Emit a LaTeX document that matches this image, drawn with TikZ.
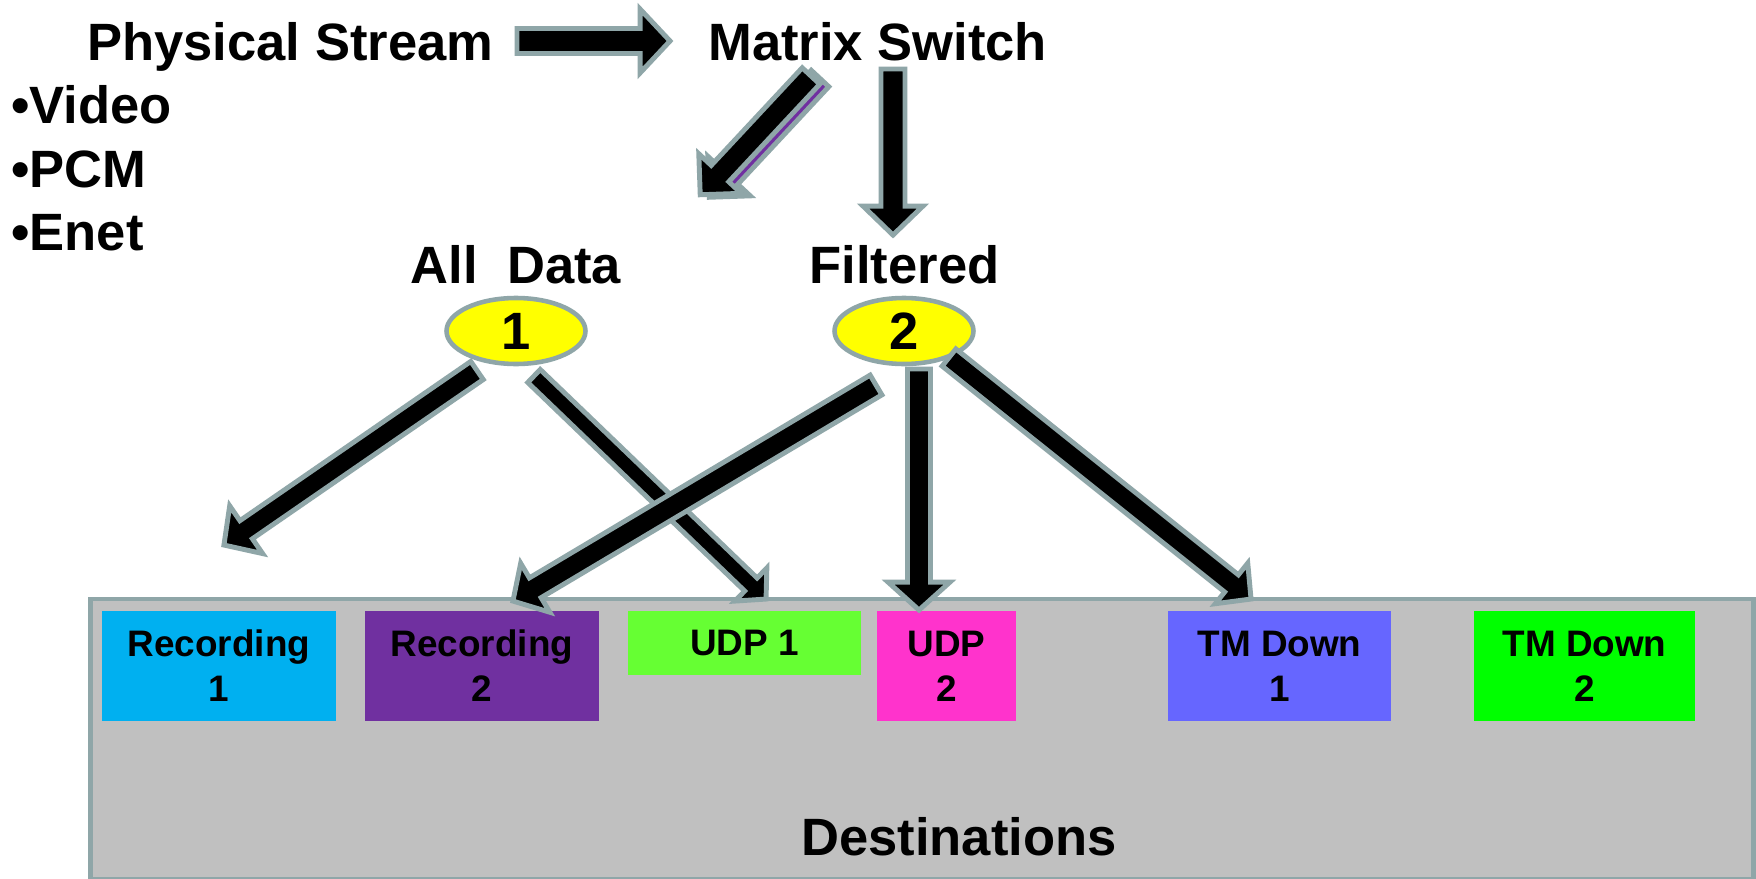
\documentclass[tikz,border=0pt]{standalone}
\usepackage{fontspec}
\setmainfont{Liberation Sans}
\usetikzlibrary{calc,shapes.geometric}

\definecolor{edgegray}{HTML}{8FA6A8}
\definecolor{destgray}{HTML}{C0C0C0}
\definecolor{recone}{HTML}{00B0F0}
\definecolor{rectwo}{HTML}{7030A0}
\definecolor{udpone}{HTML}{66FF33}
\definecolor{udptwo}{HTML}{FF33CC}
\definecolor{tmone}{HTML}{6666FF}
\definecolor{tmtwo}{HTML}{00FF00}
\definecolor{hilite}{HTML}{FFFF00}
\definecolor{shadowline}{HTML}{7030A0}

\newcommand\bigtxt{\fontsize{29.9}{36}\selectfont\bfseries}
\newcommand\boxtxt{\fontsize{21}{25.6}\selectfont\bfseries}

% Block arrow from tail #2 to tip #3: shaft half width #4, head half width #5,
% head length #6 (all in picture units), extra style #1.
\newcommand\blockarrow[6][]{%
  \path let \p1=($(#3)-(#2)$) in \pgfextra{%
    \pgfmathsetmacro\baang{atan2(\y1,\x1)}%
    \pgfmathsetmacro\balen{veclen(\x1,\y1)/0.569055}%
    \xdef\baang{\baang}\xdef\balen{\balen}};
  \begin{scope}[shift={(#2)}, rotate=\baang]
    \draw[blockarr,#1] (0,#4) -- ({\balen-#6},#4) -- ({\balen-#6},#5) -- (\balen,0)
      -- ({\balen-#6},-#5) -- ({\balen-#6},-#4) -- (0,-#4) -- cycle;
  \end{scope}}

\tikzset{
  blockarr/.style={fill=black, draw=edgegray, line width=2.8pt, line join=miter, miter limit=10},
  title/.style={font=\bigtxt, inner sep=0},
  hub/.style={ellipse, draw=edgegray, fill=hilite, line width=2.6pt, inner sep=0,
    minimum width=2.78cm, minimum height=1.32cm, font=\bigtxt},
  destbox/.style={rectangle, inner sep=0, minimum height=2.2cm, align=center, font=\boxtxt},
}

\begin{document}
\begin{tikzpicture}[x=0.02cm, y=-0.02cm]
\useasboundingbox (0,0) rectangle (1756,879);
\fill[white] (0,0) rectangle (1756,879);

% headings and source list
\node[title, anchor=base west] (ps) at (87,60) {Physical Stream};
\node[title, anchor=base west] (ms) at (708,60) {Matrix Switch};
\node[title, anchor=base west] (video) at (11,123) {•Video};
\node[title, anchor=base west] (pcm) at (11,187) {•PCM};
\node[title, anchor=base west] (enet) at (11,250) {•Enet};
\node[title, anchor=base] (alldata) at (516,283) {All\ \ Data};
\node[title, anchor=base] (filtered) at (904.5,283) {Filtered};

% selection hubs
\node[hub] (hubone) at (516,331) {1};
\node[hub] (hubtwo) at (904,331) {2};

% destinations panel
\node[draw=edgegray, fill=destgray, line width=2.8pt, inner sep=0, anchor=north west,
  minimum width=33.26cm, minimum height=5.61cm] (dest) at (88,596.5) {};
\node[title, anchor=base] (destlbl) at (959,855) {Destinations};

\node[destbox, fill=recone, minimum width=4.68cm] (rec1) at (219,666) {Recording\\1};
\node[destbox, fill=rectwo, minimum width=4.68cm] (rec2) at (482,666) {Recording\\2};
\node[destbox, fill=udpone, minimum width=4.66cm, minimum height=1.28cm] (udp1) at (744.5,643) {UDP 1};
\node[destbox, fill=udptwo, minimum width=2.78cm] (udp2) at (946.5,666) {UDP\\2};
\node[destbox, fill=tmone, minimum width=4.46cm] (tm1) at (1279.5,666) {TM Down\\1};
\node[destbox, fill=tmtwo, minimum width=4.42cm] (tm2) at (1584.5,666) {TM Down\\2};

% arrow end points
\coordinate (a1s) at (517,41);     \coordinate (a1e) at (670,41);
\coordinate (a2bs) at (820,78.5);  \coordinate (a2be) at (709,197.5);
\coordinate (a2s) at (811,76);     \coordinate (a2e) at (700,195);
\coordinate (a3s) at (893,69);     \coordinate (a3e) at (893,235);
\coordinate (a4s) at (477,370.5);  \coordinate (a4e) at (224,545);
\coordinate (a5s) at (534,376);    \coordinate (a5e) at (766,599);
\coordinate (a6s) at (876,385);    \coordinate (a6e) at (513,601);
\coordinate (a7s) at (919,369);    \coordinate (a7e) at (919,610);
\coordinate (a8s) at (949,357.5);  \coordinate (a8e) at (1251,599);

% stream into the switch
\blockarrow{a1s}{a1e}{12.5}{32}{30}
% switch outputs (the diagonal one sits on a purple-filled shadow copy)
\blockarrow[fill=shadowline]{a2bs}{a2be}{12}{29}{29}
\blockarrow{a2s}{a2e}{12}{29}{29}
\blockarrow{a3s}{a3e}{12}{30}{29}
% hub outputs
\blockarrow{a4s}{a4e}{11}{29}{27}
\blockarrow{a5s}{a5e}{9}{23}{21}
\blockarrow{a6s}{a6e}{11.5}{28.5}{26}
\blockarrow{a7s}{a7e}{11.5}{31}{28}
\blockarrow{a8s}{a8e}{11}{26}{25}
\end{tikzpicture}
\end{document}
